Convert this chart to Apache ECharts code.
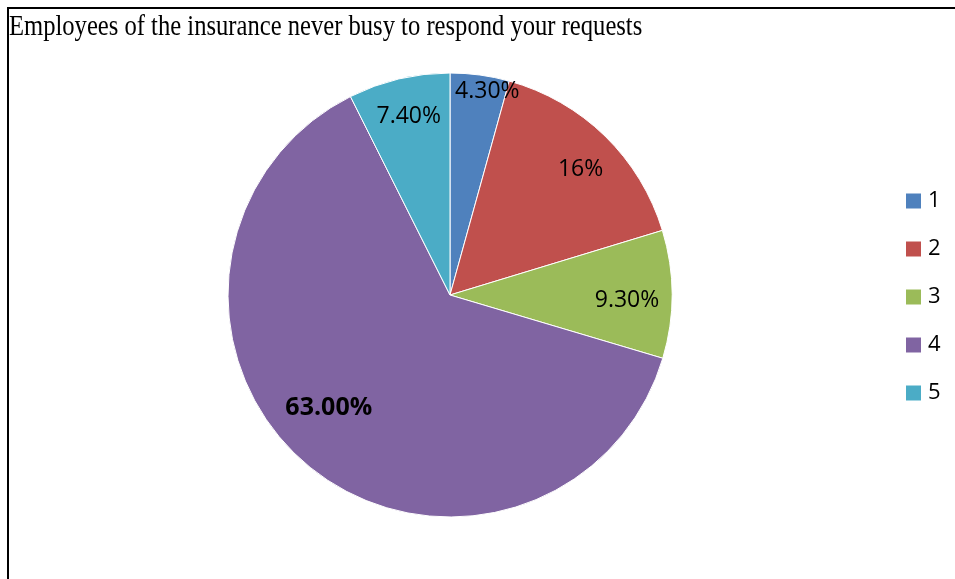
<!DOCTYPE html>
<html>
<head>
<meta charset="utf-8">
<script src="https://cdn.jsdelivr.net/npm/echarts@6/dist/echarts.min.js"></script>
<style>
html,body{margin:0;padding:0;background:#fff;}
#chart{width:955px;height:579px;}
</style>
</head>
<body>
<div id="chart"></div>
<script>
var titleText = 'Employees of the insurance never busy to respond your requests';
var categories = ['1', '2', '3', '4', '5'];
var values = [4.3, 16, 9.3, 63, 7.4];
var labelTexts = ['4.30%', '16%', '9.30%', '63.00%', '7.40%'];
var colors = ['#4F81BD', '#C0504D', '#9BBB59', '#8064A2', '#4BACC6'];
var labelOffsets = [[22, -91], [51, -44], [63, 6], [-48, 25], [-15, -68]];

var chart = echarts.init(document.getElementById('chart'));
var data = categories.map(function (c, i) {
  return {
    name: c,
    value: values[i],
    itemStyle: { color: colors[i] },
    label: {
      formatter: labelTexts[i],
      offset: labelOffsets[i],
      fontWeight: i === 3 ? 'bold' : 'normal',
      fontSize: i === 3 ? 25 : 23
    }
  };
});
chart.setOption({
  animation: false,
  legend: {
    orient: 'vertical',
    left: 906,
    top: 190,
    padding: 0,
    itemWidth: 15,
    itemHeight: 15,
    itemGap: 26,
    icon: 'rect',
    itemStyle: { borderWidth: 0 },
    data: categories,
    textStyle: { fontFamily: 'Open Sans', fontSize: 22, color: '#000', lineHeight: 22, padding: [0, 0, 0, 2] }
  },
  graphic: [
    { type: 'line', shape: { x1: 8, y1: 7, x2: 8, y2: 579 }, style: { stroke: '#000', lineWidth: 2 } },
    { type: 'line', shape: { x1: 7, y1: 8, x2: 955, y2: 8 }, style: { stroke: '#000', lineWidth: 2 } },
    {
      type: 'text', x: 9, y: 12, scaleX: 0.82,
      style: {
        text: titleText, fill: '#000', fontFamily: 'Liberation Serif', fontSize: 30,
        textAlign: 'left', textVerticalAlign: 'top'
      }
    }
  ],
  series: [{
    type: 'pie',
    center: [450, 295],
    radius: [0, 222],
    startAngle: 90,
    clockwise: true,
    data: data,
    itemStyle: { borderColor: '#fff', borderWidth: 1 },
    label: {
      show: true,
      position: 'inside',
      fontFamily: 'Open Sans',
      fontSize: 23,
      color: '#000'
    },
    labelLine: { show: false },
    emphasis: { disabled: true }
  }]
});
</script>
</body>
</html>
